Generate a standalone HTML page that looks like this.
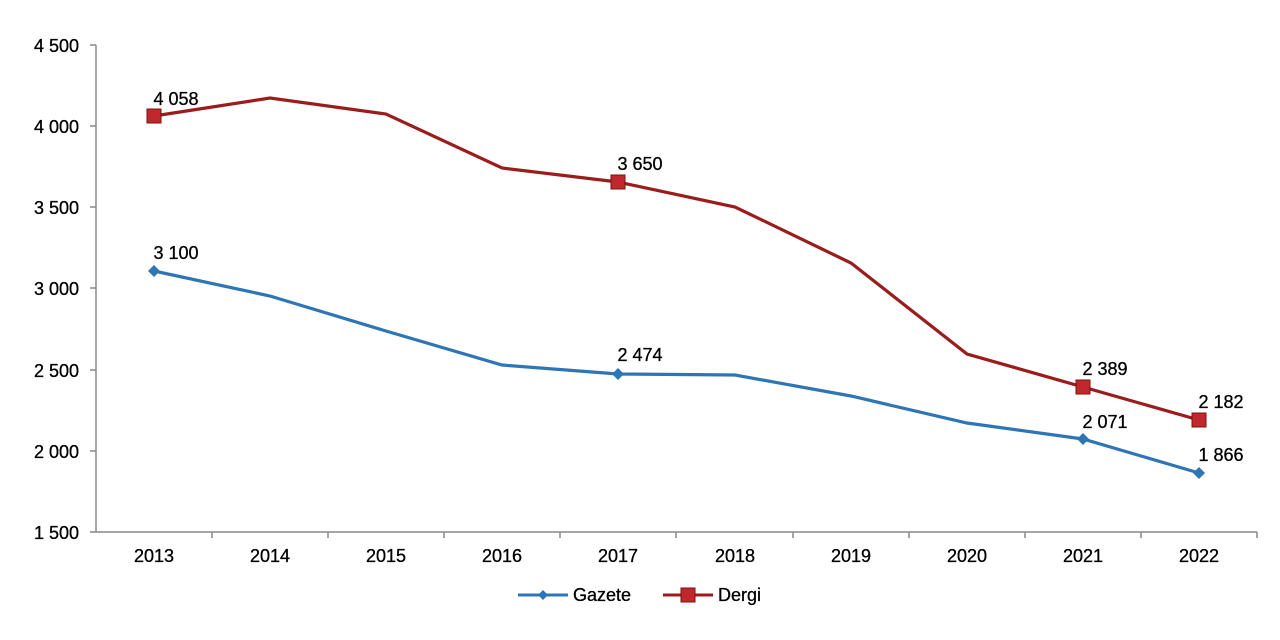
<!DOCTYPE html>
<html><head><style>body{margin:0;background:#fff}svg{display:block}</style></head><body>
<svg width="1280" height="640" xmlns="http://www.w3.org/2000/svg" font-family="Liberation Sans, Arial, sans-serif" font-size="18" fill="#000" stroke-width="0">
<g stroke="#888" stroke-width="1.5">
<line x1="96" y1="45" x2="96" y2="532"/>
<line x1="96" y1="532" x2="1257" y2="532"/>
<line x1="90" y1="45" x2="96" y2="45"/><line x1="90" y1="126" x2="96" y2="126"/><line x1="90" y1="207" x2="96" y2="207"/><line x1="90" y1="288" x2="96" y2="288"/><line x1="90" y1="370" x2="96" y2="370"/><line x1="90" y1="451" x2="96" y2="451"/><line x1="90" y1="532" x2="96" y2="532"/>
<line x1="212" y1="532" x2="212" y2="538"/><line x1="328" y1="532" x2="328" y2="538"/><line x1="444" y1="532" x2="444" y2="538"/><line x1="560" y1="532" x2="560" y2="538"/><line x1="676" y1="532" x2="676" y2="538"/><line x1="793" y1="532" x2="793" y2="538"/><line x1="909" y1="532" x2="909" y2="538"/><line x1="1025" y1="532" x2="1025" y2="538"/><line x1="1141" y1="532" x2="1141" y2="538"/><line x1="1257" y1="532" x2="1257" y2="538"/>
</g>
<g text-anchor="end" stroke="#000" stroke-width="0.3">
<text x="79" y="52">4 500</text><text x="79" y="133">4 000</text><text x="79" y="214">3 500</text><text x="79" y="295">3 000</text><text x="79" y="377">2 500</text><text x="79" y="458">2 000</text><text x="79" y="539">1 500</text>
</g>
<g text-anchor="middle" stroke="#000" stroke-width="0.3">
<text x="154" y="562">2013</text><text x="270" y="562">2014</text><text x="386" y="562">2015</text><text x="502" y="562">2016</text><text x="618" y="562">2017</text><text x="735" y="562">2018</text><text x="851" y="562">2019</text><text x="967" y="562">2020</text><text x="1083" y="562">2021</text><text x="1199" y="562">2022</text>
</g>
<polyline fill="none" stroke="#2e75b6" stroke-width="3.2" points="154,271 270,296 386,331 502,365 618,374 735,375 851,396 967,423 1083,439 1199,473"/>
<polyline fill="none" stroke="#9b1c1c" stroke-width="3.2" points="154,116 270,98 386,114 502,168 618,182 735,207 851,263 967,354 1083,387 1199,420"/>
<g fill="#2e75b6"><path d="M154 265l6 6-6 6-6-6z"/><path d="M618 368l6 6-6 6-6-6z"/><path d="M1083 433l6 6-6 6-6-6z"/><path d="M1199 467l6 6-6 6-6-6z"/></g>
<g fill="#c0282d" stroke="#7a1010" stroke-width="1"><rect x="147" y="109" width="14" height="14"/><rect x="611" y="175" width="14" height="14"/><rect x="1076" y="380" width="14" height="14"/><rect x="1192" y="413" width="14" height="14"/></g>
<g text-anchor="middle" stroke="#000" stroke-width="0.3">
<text x="176" y="105">4 058</text><text x="640" y="170">3 650</text><text x="1105" y="375">2 389</text><text x="1221" y="408">2 182</text>
<text x="176" y="259">3 100</text><text x="640" y="361">2 474</text><text x="1105" y="428">2 071</text><text x="1221" y="461">1 866</text>
</g>
<line x1="518" y1="595" x2="568" y2="595" stroke="#2e75b6" stroke-width="3"/><path d="M543 590l5 5-5 5-5-5z" fill="#2e75b6"/>
<text x="573" y="601" stroke="#000" stroke-width="0.3">Gazete</text>
<line x1="663" y1="595" x2="713" y2="595" stroke="#9b1c1c" stroke-width="3"/><rect x="681" y="588" width="14" height="14" fill="#c0282d" stroke="#7a1010" stroke-width="1"/>
<text x="718" y="601" stroke="#000" stroke-width="0.3">Dergi</text>
</svg>
</body></html>
